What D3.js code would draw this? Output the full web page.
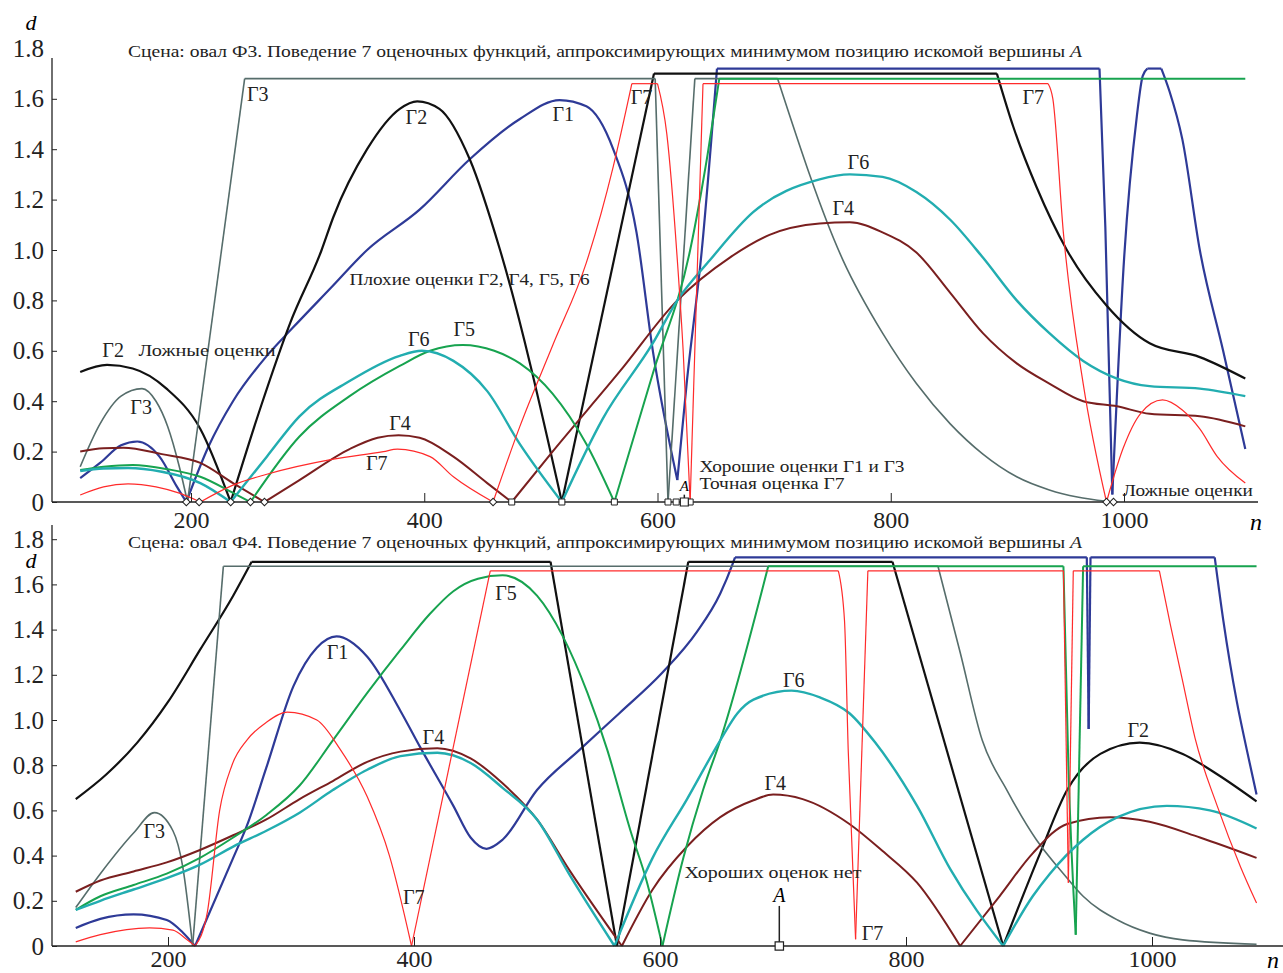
<!DOCTYPE html>
<html lang="ru">
<head>
<meta charset="UTF-8">
<title>Поведение 7 оценочных функций</title>
<script src="https://d3js.org/d3.v7.min.js"></script>
<style>
  body { margin: 0; background: #fff; }
  svg { display: block; font-family: "Liberation Serif", "DejaVu Serif", serif; }
  .tick text { font-size: 25px; fill: #222; }
  .tick line { stroke: #222; }
</style>
</head>
<body>
<script>
    const W = 1283, H = 973;

    // axis ticks
    const xTicks = [200, 400, 600, 800, 1000];
    const yTicks = [0, 0.2, 0.4, 0.6, 0.8, 1.0, 1.2, 1.4, 1.6, 1.8];

    const curveNames = ["Г1", "Г2", "Г3", "Г4", "Г5", "Г6", "Г7"];
    const curveColors = ["#2e3a97", "#111111", "#566d6b", "#7a1f1f", "#17a34f", "#22adb0", "#ff2b2b"];
    const curveWidths = [2.2, 2.2, 1.6, 2, 2, 2.4, 1.2];

    // ---- top scene (oval Ф3): each curve is a list of segments of [n, d]
    const g1Top = [
        [[105,.095],[122,.155],[140,.225],[154,.24],[173,.18],[188,.06],[196,0]],
        [[196,0],[215,.22],[236,.40],[265,.58],[287,.69],[320,.85],[351,1.0],[396,1.16],[439,1.36],[482,1.52],[516,1.595],[539,1.57],[562,1.40],[582,1.07],[596,.60],[617,.087]],
        [[617,.087],[625,.47],[638,1.0],[651,1.72]],
        [[651,1.72],[979,1.72]],
        [[979,1.72],[984,1.09],[990,.03]],
        [[990,.03],[1000,.96],[1011,1.53],[1016,1.69],[1020,1.72]],
        [[1020,1.72],[1032,1.72]],
        [[1032,1.72],[1039,1.63],[1050,1.44],[1065,1.0],[1085,.60],[1104,.21]]
    ];
    const g2Top = [
        [[105,.516],[128,.544],[150,.53],[179,.45],[208,.29],[234,0]],
        [[234,0],[260,.38],[285,.71],[312,1.0],[322,1.13],[351,1.40],[379,1.56],[394,1.59],[413,1.56],[439,1.36],[465,1.0],[518,0]],
        [[518,0],[597,1.70]],
        [[597,1.70],[891,1.70]],
        [[891,1.70],[905,1.49],[925,1.25],[951,1.0],[985,.78],[1022,.63],[1065,.575],[1104,.49]]
    ];
    const g3Top = [
        [[105,.14],[122,.31],[140,.42],[158,.45],[170,.40],[180,.30],[190,.14],[197,0]],
        [[197,0],[246,1.68]],
        [[246,1.68],[598,1.68]],
        [[598,1.68],[609,0]],
        [[609,0],[632,1.68]],
        [[632,1.68],[703,1.68]],
        [[703,1.68],[759,.96],[793,.67],[822,.47],[851,.31],[879,.19],[908,.10],[936,.048],[960,.02],[985,.003]]
    ];
    const g4Top = [
        [[105,.20],[125,.213],[142,.215],[175,.19],[208,.155],[236,.075],[263,0]],
        [[263,0],[293,.087],[336,.21],[360,.255],[378,.265],[396,.255],[425,.18],[454,.075],[475,0]],
        [[475,0],[510,.20],[568,.52],[617,.80],[662,.97],[696,1.06],[739,1.105],[765,1.11],[793,1.07],[822,.99],[851,.83],[879,.67],[908,.55],[936,.47],[965,.40],[994,.38],[1022,.35],[1065,.34],[1104,.30]]
    ];
    const g5Top = [
        [[105,.127],[125,.14],[150,.147],[180,.13],[208,.10],[236,.036],[251,0]],
        [[251,0],[293,.26],[336,.42],[379,.54],[405,.60],[433,.623],[460,.60],[482,.55],[510,.43],[539,.23],[563,0]],
        [[563,0],[596,.51],[628,1.0],[643,1.38],[653,1.68]],
        [[653,1.68],[1104,1.68]]
    ];
    const g6Top = [
        [[105,.123],[125,.133],[146,.135],[175,.12],[208,.075],[234,0]],
        [[234,0],[265,.18],[293,.34],[336,.48],[379,.58],[398,.60],[425,.56],[454,.44],[482,.23],[518,0]],
        [[518,0],[553,.33],[596,.63],[617,.80],[645,.96],[682,1.15],[739,1.28],[765,1.30],[793,1.29],[822,1.23],[851,1.12],[879,.97],[908,.80],[936,.67],[965,.56],[994,.49],[1022,.46],[1065,.45],[1104,.42]]
    ];
    const g7Top = [
        [[105,.028],[125,.06],[146,.072],[170,.06],[190,.035],[208,0]],
        [[208,0],[236,.067],[265,.11],[322,.17],[365,.20],[377,.21],[405,.18],[425,.10],[459,0]],
        [[459,0],[482,.30],[510,.62],[539,.95],[562,1.33],[578,1.66]],
        [[578,1.66],[600,1.66]],
        [[600,1.66],[608,1.46],[617,.96],[622,.60],[628,0]],
        [[628,0],[639,1.66]],
        [[639,1.66],[935,1.66]],
        [[935,1.66],[939,1.60],[948,1.07],[965,.47],[985,0]],
        [[985,0],[999,.21],[1014,.35],[1033,.405],[1050,.365],[1065,.29],[1080,.18],[1104,.075]]
    ];
    const topDiamonds = [196, 207, 234, 251, 263, 459, 985, 991];
    const topSquares = [475, 518, 563, 609, 616, 628];
    const topA = 623;

    // ---- bottom scene (oval Ф4)
    const g1Bot = [
        [[125,.08],[145,.12],[172,.14],[199,.115],[212,.06],[222,0]],
        [[222,0],[253,.39],[264,.53],[280,.79],[302,1.15],[321,1.32],[337,1.37],[362,1.28],[389,1.04],[405,.88],[432,.62],[446,.48],[459,.43],[472,.47],[500,.69],[535,.87],[567,1.03],[602,1.21],[630,1.39],[649,1.56],[659,1.69],[661,1.72]],
        [[661,1.72],[947,1.72]],
        [[947,1.72],[948.5,.96]],
        [[948.5,.96],[950,1.72]],
        [[950,1.72],[1051,1.72]],
        [[1051,1.72],[1058,1.44],[1069,1.08],[1077,.87],[1085,.67]]
    ];
    const g2Bot = [
        [[125,.65],[150,.76],[175,.90],[200,1.08],[226,1.31],[253,1.55],[268,1.70]],
        [[268,1.70],[511,1.70]],
        [[511,1.70],[565,0]],
        [[565,0],[623,1.70]],
        [[623,1.70],[789,1.70]],
        [[789,1.70],[879,0]],
        [[879,0],[909,.41],[931,.69],[958,.85],[990,.90],[1025,.85],[1053,.76],[1085,.64]]
    ];
    const g3Bot = [
        [[125,.17],[145,.32],[172,.50],[189,.59],[204,.51],[212,.35],[220,0]],
        [[220,0],[245,1.68]],
        [[245,1.68],[826,1.68]],
        [[826,1.68],[844,1.30],[862,.91],[882,.69],[906,.47],[928,.32],[944,.22],[972,.115],[998,.057],[1025,.027],[1085,.008]]
    ];
    const g4Bot = [
        [[125,.24],[145,.29],[172,.33],[199,.37],[226,.425],[253,.49],[280,.56],[307,.65],[334,.73],[362,.815],[389,.86],[419,.875],[446,.83],[472,.72],[500,.56],[527,.33],[569,0]],
        [[569,0],[594,.25],[622,.44],[649,.57],[676,.645],[692,.67],[716,.65],[754,.54],[781,.42],[809,.28],[844,0]],
        [[844,0],[876,.22],[903,.41],[931,.54],[966,.57],[998,.55],[1039,.48],[1085,.39]]
    ];
    const g5Bot = [
        [[125,.16],[145,.22],[172,.27],[199,.32],[226,.39],[253,.48],[280,.58],[307,.71],[334,.91],[362,1.12],[389,1.31],[413,1.47],[432,1.57],[452,1.625],[472,1.64],[500,1.55],[521,1.37],[541,1.12],[557,.87],[576,.51],[589,.29],[602,0]],
        [[602,0],[619,.39],[635,.69],[649,.91],[688,1.68]],
        [[688,1.68],[928,1.68]],
        [[928,1.68],[932,.80],[938,.05]],
        [[938,.05],[944,1.68]],
        [[944,1.68],[1085,1.68]]
    ];
    const g6Bot = [
        [[125,.16],[145,.20],[172,.25],[199,.30],[226,.36],[253,.44],[280,.51],[307,.59],[334,.69],[362,.78],[389,.84],[419,.855],[446,.81],[472,.70],[500,.56],[527,.31],[563,0]],
        [[563,0],[594,.39],[622,.65],[649,.91],[663,1.03],[676,1.09],[707,1.13],[730,1.10],[754,1.03],[775,.90],[809,.62],[836,.34],[879,0]],
        [[879,0],[903,.22],[917,.32],[944,.47],[972,.57],[1012,.62],[1047,.60],[1085,.52]]
    ];
    const g7Bot = [
        [[125,.018],[145,.05],[185,.08],[204,.07],[215,.03],[222,0]],
        [[222,0],[232,.15],[242,.60],[252,.80],[264,.91],[280,.99],[297,1.035],[321,1.0],[340,.87],[362,.66],[380,.40],[398,0]],
        [[398,0],[462,1.66]],
        [[462,1.66],[745,1.66]],
        [[745,1.66],[750,1.44],[753,.87],[759,.03]],
        [[759,.03],[769,1.66]],
        [[769,1.66],[928,1.66]],
        [[928,1.66],[932,.28]],
        [[932,.28],[936,1.66]],
        [[936,1.66],[1006,1.66]],
        [[1006,1.66],[1015,1.42],[1025,1.17],[1035,.92],[1053,.62],[1072,.35],[1085,.19]]
    ];
    const botA = 697;

    // titles and annotations (anchored in data coordinates: text, n, d)
    const titleMain = "Поведение 7 оценочных функций, аппроксимирующих минимумом позицию искомой вершины ";
    const topNames = [["Г3",248,1.59],["Г2",384,1.50],["Г1",510,1.51],["Г7",577,1.58],["Г7",913,1.58],
        ["Г6",763,1.32],["Г4",750,1.14],["Г2",124,.575],["Г3",148,.35],["Г6",386,.62],["Г5",425,.66],
        ["Г4",370,.285],["Г7",350,.127]];
    const topNotes = [["Плохие оценки Г2, Г4, Г5, Г6",336,.86,240],["Ложные оценки",155,.58,137],
        ["Хорошие оценки Г1 и Г3",636,.118,205],["Точная оценка Г7",636,.05,145],["Ложные оценки",999,.024,130]];
    const botNames = [["Г1",329,1.27],["Г5",466,1.53],["Г4",407,.894],["Г3",180,.48],["Г7",391,.186],
        ["Г6",700,1.146],["Г4",685,.69],["Г7",764,.027],["Г2",980,.925]];
    const botNotes = [["Хороших оценок нет",620,.30,177]];

    const serif = '"Liberation Serif", "DejaVu Serif", serif';

    const svg = d3.select("body").append("svg")
        .attr("width", W)
        .attr("height", H);

    function drawPanel(p) {
        const g = svg.append("g");
        const x = d3.scaleLinear().domain([200, 1000]).range(p.xRange);
        const y = d3.scaleLinear().domain([0, 1]).range(p.yRange);
        const y0 = y(0);

        // curves
        const line = d3.line()
            .x(d => x(d[0]))
            .y(d => y(d[1]))
            .curve(d3.curveMonotoneX);
        p.series.forEach((segs, i) => {
            g.append("g")
                .selectAll("path")
                .data(segs)
                .join("path")
                .attr("fill", "none")
                .attr("stroke", curveColors[i])
                .attr("stroke-width", curveWidths[i])
                .attr("stroke-linejoin", "round")
                .attr("d", line);
        });

        // axes lines
        g.append("line").attr("x1", 52).attr("x2", p.xEnd).attr("y1", y0).attr("y2", y0)
            .attr("stroke", "#222").attr("stroke-width", 1.3);
        g.append("line").attr("x1", 52).attr("x2", 52).attr("y1", p.yTop).attr("y2", y0)
            .attr("stroke", "#222").attr("stroke-width", 1.3);

        const xa = g.append("g")
            .attr("transform", `translate(0,${y0})`)
            .call(d3.axisBottom(x).tickValues(xTicks).tickSize(-9).tickPadding(p.xPad).tickSizeOuter(0)
                .tickFormat(d3.format("d")))
            .attr("font-family", serif);
        xa.select(".domain").remove();
        xa.selectAll("text").style("font-size", "24px");

        const ya = g.append("g")
            .attr("transform", "translate(52,0)")
            .call(d3.axisLeft(y).tickValues(yTicks).tickSize(-5).tickPadding(8).tickSizeOuter(0)
                .tickFormat(d => d === 0 ? "0" : d3.format(".1f")(d)))
            .attr("font-family", serif);
        ya.select(".domain").remove();
        ya.selectAll(".tick").filter(d => y(d) < p.yTop).select("line").remove();

        // axis letters
        g.append("text").attr("x", p.dPos[0]).attr("y", p.dPos[1])
            .attr("font-size", 22).attr("font-style", "italic").attr("text-anchor", "middle").text("d");
        g.append("text").attr("x", p.nPos[0]).attr("y", p.nPos[1])
            .attr("font-size", 24).attr("font-style", "italic").attr("text-anchor", "middle").text("n");

        // title
        const t = g.append("text").attr("x", 128).attr("y", p.titleY)
            .attr("font-size", 16).attr("fill", "#222")
            .attr("textLength", 954).attr("lengthAdjust", "spacingAndGlyphs");
        t.append("tspan").text(p.titleStart + titleMain);
        t.append("tspan").attr("font-style", "italic").text("A");

        // labels
        g.selectAll(".nm").data(p.names).join("text")
            .attr("x", d => x(d[1])).attr("y", d => y(d[2]))
            .attr("font-size", 20).attr("fill", "#222").text(d => d[0]);
        g.selectAll(".nt").data(p.notes).join("text")
            .attr("x", d => x(d[1])).attr("y", d => y(d[2]))
            .attr("font-size", 16).attr("fill", "#222")
            .attr("textLength", d => d[3]).attr("lengthAdjust", "spacingAndGlyphs")
            .text(d => d[0]);
        return {g, x, y};
    }

    const topPanel = drawPanel({
        series: [g1Top, g2Top, g3Top, g4Top, g5Top, g6Top, g7Top],
        xRange: [191, 1124], yRange: [502, 250], xEnd: 1258, yTop: 58, xPad: 9,
        dPos: [31, 30], nPos: [1256, 530], titleY: 57, titleStart: "Сцена: овал Ф3. ",
        names: topNames, notes: topNotes
    });
    const botPanel = drawPanel({
        series: [g1Bot, g2Bot, g3Bot, g4Bot, g5Bot, g6Bot, g7Bot],
        xRange: [168, 1152], yRange: [946, 720], xEnd: 1283, yTop: 525, xPad: 4,
        dPos: [31, 568], nPos: [1273, 968], titleY: 548, titleStart: "Сцена: овал Ф4. ",
        names: botNames, notes: botNotes
    });

    // markers on the n axis of the top scene
    const diamond = d3.symbol(d3.symbolSquare, 28);
    topPanel.g.selectAll(".dm").data(topDiamonds).join("path")
        .attr("transform", d => `translate(${topPanel.x(d)},${topPanel.y(0)}) rotate(45)`)
        .attr("d", diamond).attr("fill", "#fff").attr("stroke", "#222").attr("stroke-width", 1);
    topPanel.g.selectAll(".sq").data(topSquares).join("path")
        .attr("transform", d => `translate(${topPanel.x(d)},${topPanel.y(0)})`)
        .attr("d", d3.symbol(d3.symbolSquare, 36)).attr("fill", "#fff").attr("stroke", "#222").attr("stroke-width", 1);

    // vertex A marks
    [[topPanel, topA, 0.045, 0.012, 15, 64], [botPanel, botA, 0.195, 0, 20, 70]].forEach(([pn, a, dLab, dLine, fs, sz]) => {
        pn.g.append("line")
            .attr("x1", pn.x(a)).attr("x2", pn.x(a))
            .attr("y1", pn.y(dLab) + 4).attr("y2", pn.y(dLine))
            .attr("stroke", "#222").attr("stroke-width", 1.5);
        pn.g.append("text").attr("x", pn.x(a)).attr("y", pn.y(dLab))
            .attr("text-anchor", "middle").attr("font-style", "italic").attr("font-size", fs).text("A");
        pn.g.append("path")
            .attr("transform", `translate(${pn.x(a)},${pn.y(0)})`)
            .attr("d", d3.symbol(d3.symbolSquare, sz)).attr("fill", "#fff").attr("stroke", "#222").attr("stroke-width", 1.2);
    });
</script>
</body>
</html>
